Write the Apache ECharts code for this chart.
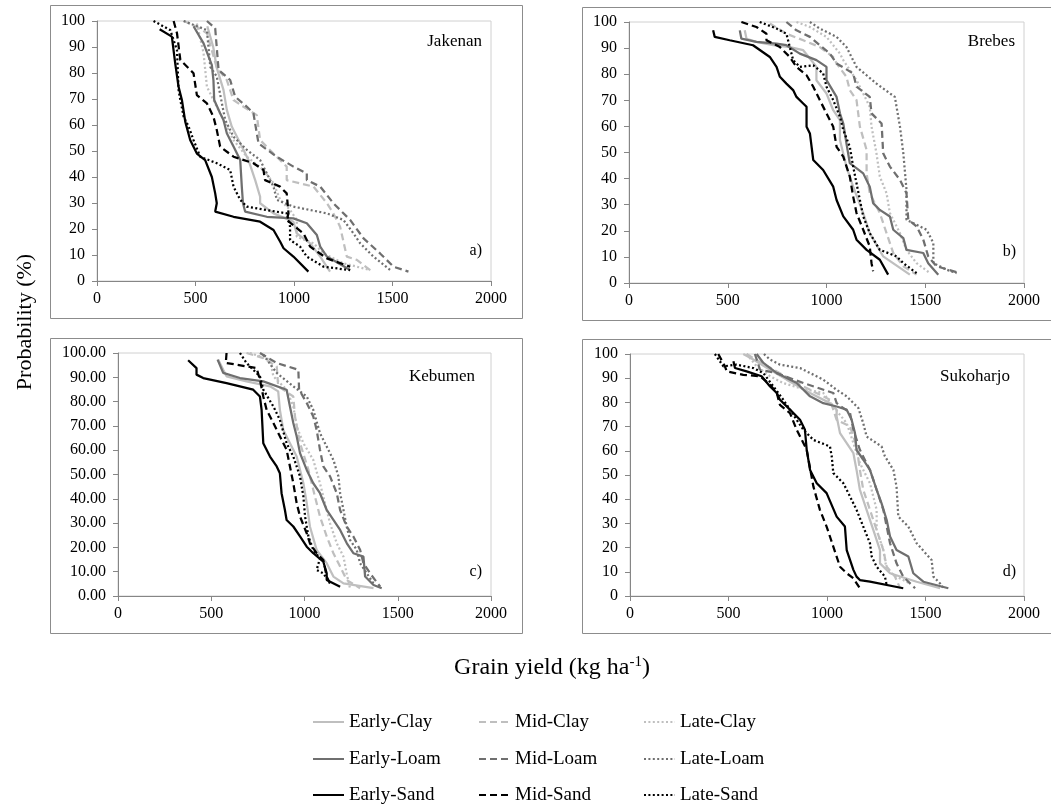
<!DOCTYPE html>
<html>
<head>
<meta charset="utf-8">
<script src="https://cdn.jsdelivr.net/npm/echarts@6/dist/echarts.min.js"></script>
<style>html,body{margin:0;padding:0;background:#fff}#c{width:1051px;height:805px}</style>
</head>
<body>
<div id="c"></div>
<script>
// ---------- names ----------
const seriesNames = ['Early-Clay','Mid-Clay','Late-Clay','Early-Loam','Mid-Loam','Late-Loam','Early-Sand','Mid-Sand','Late-Sand'];
const panelNames = ['Jakenan','Brebes','Kebumen','Sukoharjo'];
const panelTags = ['a)','b)','c)','d)'];
const xTicks = [0,500,1000,1500,2000];
const yTicks = [0,10,20,30,40,50,60,70,80,90,100];

// ---------- a) Jakenan : [yield, probability] ----------
const jakEarlyClay = [[560,98],[590,90],[608,82],[642,73.5],[659,65.8],[684,59.4],[727,53],[769,46.5],[803,38.8],[828,32.4],[828,29.9],[896,26],[997,22.8],[1014,18.3],[1082,14.5],[1133,9.4],[1183,3.6]];
const jakMidClay = [[440,100],[507,97.8],[558,95.3],[608,82],[659,77.3],[693,69.6],[744,67],[811,63.8],[828,54.2],[896,49],[963,44],[963,38.8],[1099,36.3],[1167,29.9],[1200,26],[1234,20.9],[1268,9.4],[1319,8.1],[1387,4.2]];
const jakLateClay = [[507,99],[541,87.6],[558,74.7],[583,70.9],[608,67],[659,59.4],[693,54.2],[761,47.8],[845,42.7],[896,37.6],[930,31.2],[980,27.3],[1014,23.5],[1014,17],[1099,14.5],[1150,10.6],[1251,6.8],[1387,4.2]];
const jakEarlyLoam = [[490,98],[541,91.4],[583,83],[591,77.3],[595,69.6],[625,64.5],[642,61.9],[659,56.8],[693,51.7],[727,46.5],[735,36.3],[741,29.9],[752,26.7],[862,24.7],[997,24.1],[1065,22.2],[1116,17.7],[1133,13.2],[1167,9.4],[1285,4.2]];
const jakMidLoam = [[558,100],[600,97.2],[617,81.2],[676,77.3],[701,70.9],[761,67],[794,64.5],[820,52.9],[912,47.8],[997,44],[1065,41.4],[1065,38.8],[1133,36.3],[1200,29.9],[1285,23.5],[1353,16.4],[1437,10.6],[1505,5.5],[1581,3.6]];
const jakLateLoam = [[440,100],[558,96.5],[575,82.4],[608,78.6],[634,68.3],[651,61.9],[693,55.5],[761,50.4],[828,46.5],[896,36.3],[913,31.2],[997,28.6],[1167,26],[1251,23.5],[1302,18.3],[1336,14.5],[1403,9.4],[1488,4.2]];
const jakEarlySand = [[318,96.8],[380,94],[397,83.7],[414,74.7],[431,69.6],[448,61.3],[473,54.2],[507,49],[549,46.5],[583,40],[600,33.7],[608,29.9],[600,26.7],[693,24.7],[828,22.8],[896,19.6],[930,15.1],[947,12.6],[997,9.4],[1073,3.6]];
const jakMidSand = [[389,100],[406,95.3],[423,85],[490,79.9],[507,71.5],[558,68.3],[591,63.2],[608,58.1],[625,51.7],[693,47.8],[794,45.3],[845,42.7],[853,38.8],[929,36.3],[963,33.7],[972,26],[963,23.5],[1048,18.3],[1082,13.2],[1167,8.7],[1285,5.5]];
const jakLateSand = [[287,100],[372,96.5],[406,88.8],[414,73.5],[423,69.6],[440,63.2],[465,59.4],[490,54.2],[524,47.8],[608,45.3],[676,42.7],[693,36.3],[727,31.2],[761,28.6],[862,27.3],[963,26],[980,20.9],[980,15.8],[1031,13.2],[1065,9.4],[1150,5.5],[1285,4.2]];

// ---------- b) Brebes ----------
const breEarlyClay = [[586,96.8],[595,93.6],[645,92.4],[730,91.1],[814,90.4],[882,89.2],[916,86],[949,82.8],[949,77.7],[1000,72.6],[1034,66.2],[1068,62.4],[1068,54.8],[1101,44.6],[1135,36.9],[1186,26.8],[1219,19.1],[1287,10.2],[1422,3.2]];
const breMidClay = [[713,99.4],[797,95.5],[882,93],[966,90.4],[1034,86.6],[1051,84.1],[1101,79],[1118,73.9],[1152,70.1],[1169,59.9],[1203,51],[1203,42],[1219,34.4],[1270,26.8],[1304,19.1],[1338,11.5],[1389,6.4],[1456,3.2]];
const breLateClay = [[848,100],[916,98.1],[1000,94.3],[1068,87.9],[1085,85.4],[1152,77.7],[1186,72.6],[1219,67.5],[1228,59.9],[1253,49.7],[1270,40.8],[1304,34.4],[1321,26.8],[1372,19.1],[1405,12.7],[1456,7.6],[1524,3.8]];
const breEarlyLoam = [[561,96.8],[569,93.6],[645,92.4],[747,91.7],[797,91.1],[865,87.9],[949,85.4],[1000,82.8],[1000,77.7],[1051,71.3],[1068,65],[1085,61.1],[1101,53.5],[1118,45.9],[1186,42],[1219,36.9],[1236,30.6],[1270,28],[1321,25.5],[1338,20.4],[1389,17.2],[1405,12.7],[1490,11.5],[1515,7.6],[1566,3.2]];
const breMidLoam = [[797,100],[848,96.8],[916,94.3],[1017,87.9],[1051,84.1],[1135,80.3],[1152,75.2],[1219,71.3],[1228,65],[1279,61.1],[1287,49.7],[1321,44.6],[1372,39.5],[1405,34.4],[1414,24.2],[1456,21.7],[1490,16.6],[1515,10.2],[1557,6.4],[1675,3.8]];
const breLateLoam = [[916,100],[966,97.5],[1051,94.3],[1101,90.4],[1152,82.8],[1253,76.4],[1346,71.3],[1372,59.9],[1389,49.7],[1405,35.7],[1405,24.2],[1507,20.4],[1541,15.3],[1541,7.6],[1608,5.1],[1659,3.8]];
const breEarlySand = [[426,96.8],[434,94.3],[510,93],[628,91.1],[713,86.6],[747,82.8],[764,79],[797,76.4],[831,73.9],[848,71.3],[882,68.8],[899,67.5],[899,59.9],[916,57.3],[933,47.1],[983,43.3],[1034,36.9],[1051,31.8],[1085,25.5],[1135,20.4],[1152,16.6],[1203,12.7],[1270,8.9],[1312,3.2]];
const breMidSand = [[569,100],[645,98.1],[696,95.5],[696,93],[764,90.4],[814,86.6],[848,82.8],[899,79.6],[933,75.2],[966,70.1],[1000,65],[1034,59.9],[1051,52.2],[1085,48.4],[1118,40.8],[1135,33.1],[1152,26.8],[1186,20.4],[1219,14],[1228,7.6],[1236,4.5]];
const breLateSand = [[662,100],[747,97.5],[797,95.5],[814,90.4],[831,85.4],[865,82.8],[933,83.4],[983,80.3],[1000,75.2],[1034,70.1],[1068,63.7],[1085,58.6],[1118,52.2],[1135,44.6],[1152,38.2],[1169,31.8],[1186,25.5],[1219,19.1],[1270,12.7],[1355,10.2],[1389,7.6],[1456,3.8]];

// ---------- c) Kebumen ----------
const kebEarlyClay = [[537,97.3],[564,93.1],[582,90.4],[689,88.3],[815,86.3],[859,84.2],[868,76.6],[886,68.4],[922,62.9],[958,57.4],[994,46.4],[1012,38.2],[1029,28.6],[1065,19],[1119,13.5],[1155,8],[1209,5.2],[1370,3.2]];
const kebMidClay = [[689,100],[779,97.9],[851,94.5],[859,86.3],[940,82.1],[949,73.9],[976,62.9],[1021,51.9],[1047,43.7],[1083,32.7],[1119,24.5],[1155,17.6],[1191,12.1],[1226,6.6],[1298,3.2]];
const kebLateClay = [[707,100],[815,97.3],[833,90.4],[904,84.9],[940,78],[958,69.8],[994,62.9],[1047,56],[1083,46.4],[1101,40.9],[1137,29.9],[1173,21.7],[1209,16.2],[1226,9.3],[1244,3.2]];
const kebEarlyLoam = [[534,97.3],[564,91.8],[654,89.7],[779,88.3],[904,84.9],[922,78],[940,71.2],[958,65.7],[976,58.8],[1012,51.9],[1047,46.4],[1083,42.3],[1119,35.4],[1155,31.3],[1191,27.2],[1227,21.7],[1262,17.6],[1316,16.2],[1325,8],[1370,4.5],[1414,3.2]];
const kebMidLoam = [[761,100],[851,95.9],[967,93.1],[971,84.9],[1012,79.4],[1047,73.9],[1065,68.4],[1083,60.2],[1101,53.3],[1137,49.2],[1173,42.3],[1191,35.4],[1226,28.6],[1262,24.5],[1298,19],[1316,13.5],[1352,9.3],[1406,3.8]];
const kebLateLoam = [[779,99.3],[851,91.8],[940,86.3],[1012,82.1],[1047,76.6],[1083,67],[1119,61.5],[1155,56],[1182,49.2],[1191,42.3],[1209,35.4],[1226,28.6],[1244,23.1],[1280,19],[1298,13.5],[1334,9.3],[1370,5.2]];
const kebEarlySand = [[376,97],[421,93.8],[421,91.1],[457,89.7],[582,87.6],[725,84.9],[761,82.1],[770,76.6],[779,62.9],[815,57.4],[851,53.3],[868,50.5],[877,42.3],[895,35.4],[904,31.3],[940,28.6],[976,24.5],[1012,20.3],[1047,17.6],[1101,14.1],[1119,9.3],[1119,6.6],[1191,3.8]];
const kebMidSand = [[582,100],[578,95.9],[636,95.2],[743,93.8],[761,89],[779,82.1],[797,76.6],[833,71.2],[868,65.7],[904,60.2],[922,53.3],[940,46.4],[958,38.2],[976,32.7],[1012,25.8],[1029,21.7],[1065,17.6],[1101,14.8],[1119,8],[1137,5.2]];
const kebLateSand = [[654,100],[689,95.9],[725,93.1],[761,90.4],[779,84.9],[833,78],[868,72.5],[904,62.9],[940,57.4],[976,49.2],[994,40.9],[1003,32.7],[1021,24.5],[1047,19],[1083,15.5],[1065,10.7],[1101,9.3],[1137,5.2]];

// ---------- d) Sukoharjo ----------
const sukEarlyClay = [[575,100],[626,97.7],[711,93.5],[795,89.4],[914,83.9],[1015,79.7],[1049,77],[1049,74.2],[1066,67.3],[1100,63.2],[1134,59],[1150,52.1],[1167,43.9],[1201,35.6],[1235,27.3],[1269,19],[1269,13.5],[1320,9.4],[1455,5.9],[1574,3.2]];
const sukMidClay = [[592,100],[668,96.3],[745,92.8],[880,86.6],[1015,81.1],[1032,77],[1049,72.8],[1117,70.1],[1134,65.9],[1150,61.8],[1167,52.1],[1184,43.9],[1218,35.6],[1252,27.3],[1286,19],[1303,12.1],[1345,8],[1371,3.2]];
const sukLateClay = [[592,100],[643,94.9],[711,90.8],[778,88],[863,85.9],[981,83.9],[1032,78.3],[1100,71.4],[1134,63.2],[1167,54.9],[1218,46.6],[1252,35.6],[1252,27.3],[1286,19],[1303,10.8],[1353,8],[1421,5.2]];
const sukEarlyLoam = [[643,100],[677,96.3],[745,92.1],[846,88],[914,82.5],[981,79.7],[1049,78.3],[1100,77],[1125,72.8],[1142,67.3],[1150,60.4],[1184,56.3],[1218,52.1],[1252,43.9],[1277,38.3],[1303,31.4],[1320,24.6],[1353,19],[1413,16.3],[1438,9.4],[1489,5.9],[1616,3.2]];
const sukMidLoam = [[634,100],[660,93.5],[745,92.1],[880,88],[1032,83.9],[1049,79.7],[1117,75.6],[1134,68.7],[1167,60.4],[1218,52.1],[1252,43.9],[1286,35.6],[1303,28.7],[1320,21.8],[1353,13.5],[1387,8],[1447,3.2]];
const sukLateLoam = [[680,100],[711,97.7],[761,95.6],[863,94.2],[981,89.4],[1049,85.2],[1100,82.5],[1159,77.7],[1184,71.4],[1201,65.9],[1277,61.8],[1294,57.7],[1337,52.1],[1353,45.2],[1362,32.8],[1413,28.7],[1455,21.8],[1531,14.9],[1540,8],[1574,5.2],[1591,3.2]];
const sukEarlySand = [[525,97],[533,94.2],[592,92.8],[668,90.8],[711,86.6],[745,83.9],[761,81.1],[812,77],[863,72.8],[888,68.7],[897,60.4],[914,52.1],[948,46.6],[998,42.5],[1049,32.8],[1091,28.7],[1100,19],[1134,10.8],[1150,8],[1167,6.6],[1218,5.9],[1387,3.2]];
const sukMidSand = [[448,100],[482,94.9],[491,92.8],[575,91.4],[660,90.8],[711,87.3],[745,83.9],[761,79],[812,75.6],[846,68.7],[880,63.2],[897,60.4],[931,45.2],[964,35.6],[998,28.7],[1032,20.4],[1066,12.1],[1100,9.4],[1134,7.3],[1167,3.2]];
const sukLateSand = [[431,100],[474,94.9],[541,95.6],[626,94.2],[677,92.1],[728,86.6],[778,81.1],[812,77],[846,72.8],[880,68.7],[931,64.5],[1015,61.8],[1024,57.7],[1032,50.8],[1083,46.6],[1117,41.1],[1150,35.6],[1184,28.7],[1218,21.8],[1227,16.3],[1252,12.1],[1294,8],[1303,4.5]];

// ---------- assembly ----------
const panelSeries = [
  [jakEarlyClay, jakMidClay, jakLateClay, jakEarlyLoam, jakMidLoam, jakLateLoam, jakEarlySand, jakMidSand, jakLateSand],
  [breEarlyClay, breMidClay, breLateClay, breEarlyLoam, breMidLoam, breLateLoam, breEarlySand, breMidSand, breLateSand],
  [kebEarlyClay, kebMidClay, kebLateClay, kebEarlyLoam, kebMidLoam, kebLateLoam, kebEarlySand, kebMidSand, kebLateSand],
  [sukEarlyClay, sukMidClay, sukLateClay, sukEarlyLoam, sukMidLoam, sukLateLoam, sukEarlySand, sukMidSand, sukLateSand]
];

const FONT = "'Liberation Serif', 'Times New Roman', serif";
const soilColor = {Clay: '#bfbfbf', Loam: '#6f6f6f', Sand: '#000000'};
const timeDash = {Early: 'solid', Mid: [7, 4], Late: [2, 2.4]};

const grids = [
  {left: 97, top: 21, width: 394, height: 260},
  {left: 629, top: 22, width: 395, height: 261},
  {left: 118, top: 353, width: 373, height: 243},
  {left: 630, top: 354, width: 394, height: 242}
];
const boxes = [
  {x: 50, y: 5, w: 472, h: 313},
  {x: 582, y: 7, w: 480, h: 313},
  {x: 50, y: 338, w: 472, h: 295},
  {x: 582, y: 339, w: 480, h: 294}
];

const axisLine = {show: true, lineStyle: {color: '#868686', width: 1}};
const axisTick = {show: true, inside: false, length: 5, lineStyle: {color: '#868686'}};

// legend: three columns (Early / Mid / Late), three rows (Clay / Loam / Sand)
const legendCols = [312, 478, 643];
const legendRows = [722, 759, 795];

const option = {
  backgroundColor: '#fff',
  animation: false,
  grid: grids.map(g => Object.assign({show: true, borderColor: '#d0d0d0', borderWidth: 1, backgroundColor: 'transparent', containLabel: false, outerBoundsMode: 'none'}, g)),
  xAxis: grids.map((g, i) => ({
    type: 'value', gridIndex: i, min: xTicks[0], max: xTicks[xTicks.length - 1], interval: 500,
    axisLine, axisTick, splitLine: {show: false},
    axisLabel: {color: '#000', fontFamily: FONT, fontSize: 16, margin: 10, formatter: v => String(v)}
  })),
  yAxis: grids.map((g, i) => ({
    type: 'value', gridIndex: i, min: yTicks[0], max: yTicks[yTicks.length - 1], interval: 10,
    axisLine, axisTick, splitLine: {show: false},
    axisLabel: {color: '#000', fontFamily: FONT, fontSize: 16, margin: 12,
      formatter: i === 2 ? (v => v.toFixed(2)) : (v => String(v))}
  })),
  legend: [],
  series: [],
  graphic: []
};

['Early', 'Mid', 'Late'].forEach((t, k) => {
  ['Clay', 'Loam', 'Sand'].forEach((s, r) => {
    option.legend.push({
      data: [t + '-' + s], orient: 'horizontal',
      left: legendCols[k], top: legendRows[r] - 12, padding: 0,
      itemWidth: 31, itemHeight: 14, itemGap: 0,
      itemStyle: {opacity: 0},
      textStyle: {color: '#000', fontFamily: FONT, fontSize: 19, lineHeight: 24},
      selectedMode: false
    });
  });
});

panelSeries.forEach((arrs, p) => {
  arrs.forEach((data, s) => {
    const name = seriesNames[s];
    const [time, soil] = name.split('-');
    option.series.push({
      name, type: 'line', xAxisIndex: p, yAxisIndex: p, data,
      symbol: 'none', showSymbol: false, smooth: false,
      lineStyle: {color: soilColor[soil], width: 2.25, type: timeDash[time]},
      itemStyle: {color: soilColor[soil]},
      z: 2 + (soil === 'Sand' ? 2 : soil === 'Loam' ? 1 : 0)
    });
  });
});

boxes.forEach(b => option.graphic.push({
  type: 'rect', silent: true, z: -10,
  shape: {x: b.x + 0.5, y: b.y + 0.5, width: b.w, height: b.h},
  style: {fill: 'none', stroke: '#8c8c8c', lineWidth: 1}
}));

const nameAnchors = [[482, 42], [1015, 42], [475, 377], [1010, 377]];
const tagAnchors = [[482, 251], [1016, 252], [482, 572], [1016, 572]];
panelNames.forEach((n, i) => {
  option.graphic.push({type: 'text', silent: true, x: nameAnchors[i][0], y: nameAnchors[i][1],
    style: {text: n, font: '17px ' + FONT, fill: '#000', align: 'right', verticalAlign: 'middle'}});
  option.graphic.push({type: 'text', silent: true, x: tagAnchors[i][0], y: tagAnchors[i][1],
    style: {text: panelTags[i], font: '16px ' + FONT, fill: '#000', align: 'right', verticalAlign: 'middle'}});
});

option.graphic.push({type: 'text', silent: true, x: 25, y: 322, rotation: Math.PI / 2,
  style: {text: 'Probability (%)', font: '22px ' + FONT, fill: '#000', align: 'center', verticalAlign: 'middle'}});
option.graphic.push({type: 'text', silent: true, x: 552, y: 668,
  style: {text: '{m|Grain yield (kg ha}{s|-1}{m|)}', align: 'center', verticalAlign: 'middle',
    rich: {m: {fontFamily: FONT, fontSize: 24, color: '#000'},
           s: {fontFamily: FONT, fontSize: 15, color: '#000', verticalAlign: 'top', padding: [0, 0, 11, 0]}}}});

const chart = echarts.init(document.getElementById('c'), null, {renderer: 'canvas'});
chart.setOption(option);
</script>
</body>
</html>
